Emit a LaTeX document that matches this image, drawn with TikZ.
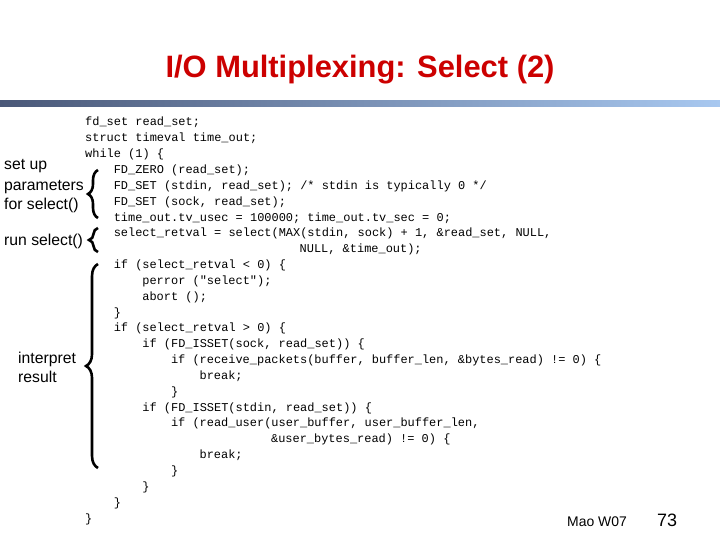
\documentclass[tikz,border=0pt]{standalone}
\usepackage{fontspec}
\setmainfont{Liberation Sans}
\newfontfamily\codefont{Liberation Mono}
\usetikzlibrary{decorations.pathreplacing}
\definecolor{titlered}{HTML}{CC0000}
\definecolor{barL}{HTML}{4A5878}
\definecolor{barR}{HTML}{A8C8F0}
\tikzset{
 code/.style={anchor=base west,inner sep=0pt,font=\codefont\fontsize{12}{12}\selectfont},
 lbl/.style={anchor=base west,inner sep=0pt,font=\fontsize{15.8}{18}\selectfont},
 br/.style={decorate,decoration={brace,amplitude=10pt},line width=2.6pt},
}
\begin{document}
\begin{tikzpicture}[x=1bp,y=-1bp]
\def\cl#1#2#3{\node[code] (c#1) at ({85+7.15*#2},{126+15.84*(#1-1)}) {#3};}
\useasboundingbox (0,0) rectangle (720,540);
\fill[white] (0,0) rectangle (720,540);
\node[font=\bfseries\fontsize{31}{34}\selectfont,text=titlered] (title) at (360,70) {I/O Multiplexing: Select (2)};
\shade[left color=barL,right color=barR] (0,101) rectangle (720,107);
\cl{1}{0}{fd\_set read\_set;}
\cl{2}{0}{struct timeval time\_out;}
\cl{3}{0}{while (1) \{}
\cl{4}{4}{FD\_ZERO (read\_set);}
\cl{5}{4}{FD\_SET (stdin, read\_set); /* stdin is typically 0 */}
\cl{6}{4}{FD\_SET (sock, read\_set);}
\cl{7}{4}{time\_out.tv\_usec = 100000; time\_out.tv\_sec = 0;}
\cl{8}{4}{select\_retval = select(MAX(stdin, sock) + 1, \&read\_set, NULL,}
\cl{9}{30}{NULL, \&time\_out);}
\cl{10}{4}{if (select\_retval < 0) \{}
\cl{11}{8}{perror ("select");}
\cl{12}{8}{abort ();}
\cl{13}{4}{\}}
\cl{14}{4}{if (select\_retval > 0) \{}
\cl{15}{8}{if (FD\_ISSET(sock, read\_set)) \{}
\cl{16}{12}{if (receive\_packets(buffer, buffer\_len, \&bytes\_read) != 0) \{}
\cl{17}{16}{break;}
\cl{18}{12}{\}}
\cl{19}{8}{if (FD\_ISSET(stdin, read\_set)) \{}
\cl{20}{12}{if (read\_user(user\_buffer, user\_buffer\_len,}
\cl{21}{26}{\&user\_bytes\_read) != 0) \{}
\cl{22}{16}{break;}
\cl{23}{12}{\}}
\cl{24}{8}{\}}
\cl{25}{4}{\}}
\cl{26}{0}{\}}
\node[lbl] (l1) at (4,170) {set up};
\node[lbl] (l2) at (4,191) {parameters};
\node[lbl] (l3) at (4,210) {for select()};
\node[lbl] (l4) at (4,246) {run select()};
\node[lbl] (l5) at (18,363) {interpret};
\node[lbl] (l6) at (18,382) {result};
\coordinate (b1t) at (98,170); \coordinate (b1b) at (98,218);
\coordinate (b2t) at (98,228); \coordinate (b2b) at (98,252);
\coordinate (b3t) at (98,264); \coordinate (b3b) at (98,468);
\draw[br] (b1b) -- (b1t);
\draw[br,decoration={amplitude=9pt}] (b2b) -- (b2t);
\draw[br,decoration={amplitude=12pt}] (b3b) -- (b3t);
\node[anchor=base west,inner sep=0pt,font=\fontsize{14}{16}\selectfont] (mao) at (567,526) {Mao W07};
\node[anchor=base west,inner sep=0pt,font=\fontsize{18}{20}\selectfont] (pg) at (657,526) {73};
\end{tikzpicture}
\end{document}
